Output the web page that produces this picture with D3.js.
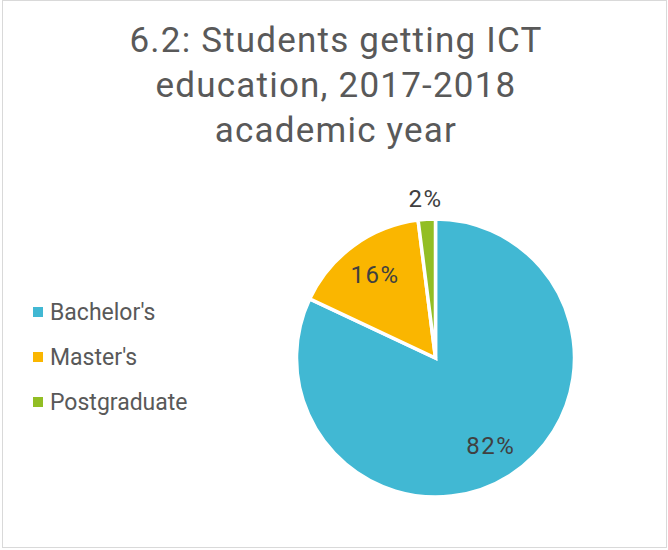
<!DOCTYPE html>
<html>
<head>
<meta charset="utf-8">
<script src="https://cdn.jsdelivr.net/npm/d3@7"></script>
<style>
  html, body { margin: 0; padding: 0; background: #ffffff; }
  svg { display: block; }
</style>
</head>
<body>
<svg id="chart" width="668" height="550"></svg>
<script>
// ---- data ----
const titleLines = ["6.2: Students getting ICT", "education, 2017-2018", "academic year"];
const categories = ["Bachelor's", "Master's", "Postgraduate"];
const values = [82, 16, 2];
const colors = ["#41B8D3", "#FAB600", "#92BE24"];

// ---- layout ----
const W = 668, H = 550;
const font = "Roboto, 'Open Sans', 'DejaVu Sans', sans-serif";
const svg = d3.select("#chart");

svg.append("rect")
  .attr("x", 2.5).attr("y", 0.5)
  .attr("width", 664).attr("height", 547)
  .attr("fill", "#ffffff")
  .attr("stroke", "#d9d9d9").attr("stroke-width", 1);

// title
svg.append("g").selectAll("text")
  .data(titleLines)
  .join("text")
  .attr("x", 336)
  .attr("y", (d, i) => 52 + i * 45)
  .attr("text-anchor", "middle")
  .attr("font-family", font)
  .attr("font-size", 35)
  .attr("letter-spacing", 1.2)
  .attr("fill", "#595959")
  .text(d => d);

// pie
const cx = 435.5, cy = 358, r = 139;
const pie = d3.pie().sort(null).value(d => d.value);
const data = categories.map((c, i) => ({ name: c, value: values[i], color: colors[i] }));
const arcs = pie(data);
const arc = d3.arc().innerRadius(0).outerRadius(r);
const g = svg.append("g").attr("transform", `translate(${cx},${cy})`);

g.selectAll("path")
  .data(arcs)
  .join("path")
  .attr("d", arc)
  .attr("fill", d => d.data.color)
  .attr("stroke", "#ffffff")
  .attr("stroke-width", 3.5)
  .attr("stroke-linejoin", "miter");

const total = d3.sum(values);
const inner = d3.arc().innerRadius(103).outerRadius(103);
const outer = d3.arc().innerRadius(160).outerRadius(160);
g.selectAll("text.lbl")
  .data(arcs)
  .join("text")
  .attr("class", "lbl")
  .attr("transform", d => {
    const c = (d.data.value / total < 0.05 ? outer : inner).centroid(d);
    return `translate(${c[0]},${c[1]})`;
  })
  .attr("text-anchor", "middle")
  .attr("dy", "0.36em")
  .attr("font-family", font)
  .attr("font-size", 24)
  .attr("letter-spacing", 1.5)
  .attr("fill", "#404040")
  .text(d => Math.round(d.data.value / total * 100) + "%");

// legend
const legend = svg.append("g");
const items = legend.selectAll("g")
  .data(data)
  .join("g")
  .attr("transform", (d, i) => `translate(33,${312 + i * 45})`);
items.append("rect")
  .attr("x", 0).attr("y", -5)
  .attr("width", 10).attr("height", 10)
  .attr("fill", d => d.color);
items.append("text")
  .attr("x", 17)
  .attr("dy", "0.36em")
  .attr("font-family", font)
  .attr("font-size", 23)
  .attr("fill", "#595959")
  .text(d => d.name);
</script>
</body>
</html>
